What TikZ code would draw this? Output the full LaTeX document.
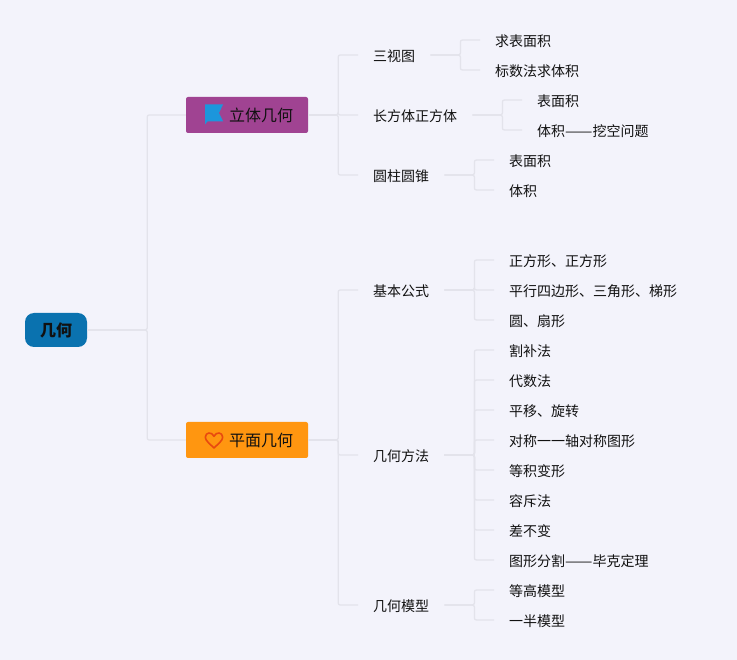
\documentclass[tikz,border=0pt]{standalone}
\usepackage{fontspec}
\setmainfont{Noto Sans CJK SC}
\definecolor{bgc}{HTML}{F3F3FB}
\definecolor{linec}{HTML}{E3E3EB}
\definecolor{rootc}{HTML}{0A72AF}
\definecolor{purplec}{HTML}{A04392}
\definecolor{orangec}{HTML}{FF9610}
\definecolor{flagc}{HTML}{1C96DC}
\definecolor{heartc}{HTML}{E8490F}
\definecolor{txtc}{HTML}{111111}
\tikzset{
  x=1pt,y=-1pt,
  conn/.style={draw=linec,line width=1.3pt,rounded corners=2pt},
  rootbox/.style={draw=none,fill=rootc,rounded corners=9pt,minimum width=62pt,minimum height=34pt,inner sep=0pt,text height=14pt,text depth=0pt,font=\fontsize{16}{16}\selectfont\bfseries,text=txtc},
  branchbox/.style={draw=none,rounded corners=2pt,minimum width=122pt,minimum height=36pt,inner sep=0pt,text height=13.2pt,text depth=0pt,font=\fontsize{16}{16}\selectfont,text=txtc},
  topic/.style={anchor=west,inner xsep=15pt,inner ysep=0pt,text height=12.4pt,text depth=0pt,font=\fontsize{14}{14}\selectfont,text=txtc},
}
\newcommand{\dashpair}{\scalebox{1.167}[1]{——}}
\begin{document}
\begin{tikzpicture}
\useasboundingbox (0,0) rectangle (737,660);
\fill[bgc] (0,0) rectangle (737,660);
% nodes
\node[rootbox] (root) at (56,330) {几何};
\node[branchbox,fill=purplec] (solid) at (247,115) {\hspace*{28pt}立体几何};
\node[branchbox,fill=orangec] (plane) at (247,440) {\hspace*{28pt}平面几何};
\node[topic] (sst) at (358,55) {三视图};
\node[topic] (cft) at (358,115) {长方体正方体};
\node[topic] (yz) at (358,175) {圆柱圆锥};
\node[topic] (jb) at (358,290) {基本公式};
\node[topic] (ff) at (358,455) {几何方法};
\node[topic] (mx) at (358,605) {几何模型};
\node[topic] (a1) at (480,40) {求表面积};
\node[topic] (a2) at (480,70) {标数法求体积};
\node[topic] (b1) at (522,100) {表面积};
\node[topic] (b2) at (522,130) {体积\dashpair 挖空问题};
\node[topic] (c1) at (494,160) {表面积};
\node[topic] (c2) at (494,190) {体积};
\node[topic] (d1) at (494,260) {正方形、正方形};
\node[topic] (d2) at (494,290) {平行四边形、三角形、梯形};
\node[topic] (d3) at (494,320) {圆、扇形};
\node[topic] (e1) at (494,350) {割补法};
\node[topic] (e2) at (494,380) {代数法};
\node[topic] (e3) at (494,410) {平移、旋转};
\node[topic] (e4) at (494,440) {对称一一轴对称图形};
\node[topic] (e5) at (494,470) {等积变形};
\node[topic] (e6) at (494,500) {容斥法};
\node[topic] (e7) at (494,530) {差不变};
\node[topic] (e8) at (494,560) {图形分割\dashpair 毕克定理};
\node[topic] (f1) at (494,590) {等高模型};
\node[topic] (f2) at (494,620) {一半模型};
% connectors
\foreach \p/\d/\c in {root/60/solid,root/60/plane,
  solid/30/sst,solid/30/cft,solid/30/yz,
  plane/30/jb,plane/30/ff,plane/30/mx,
  sst/30/a1,sst/30/a2,cft/30/b1,cft/30/b2,yz/30/c1,yz/30/c2,
  jb/30/d1,jb/30/d2,jb/30/d3,
  ff/30/e1,ff/30/e2,ff/30/e3,ff/30/e4,ff/30/e5,ff/30/e6,ff/30/e7,ff/30/e8,
  mx/30/f1,mx/30/f2}
  {\draw[conn] (\p.east) -- ++(\d,0) |- (\c.west);}
% flag marker
\fill[flagc] (205,104.5) -- (223,104.5) -- (219,113) -- (223.2,121.5) -- (207.5,121.5) -- (205,124.5) -- cycle;
% heart marker
\draw[heartc,line width=1.6pt,line join=round] (214,448)
  .. controls (210,444) and (205.3,440.5) .. (205.3,437.3)
  .. controls (205.3,432) and (212,431.5) .. (214,436.3)
  .. controls (216,431.5) and (222.7,432) .. (222.7,437.3)
  .. controls (222.7,440.5) and (218,444) .. (214,448) -- cycle;
\end{tikzpicture}
\end{document}
